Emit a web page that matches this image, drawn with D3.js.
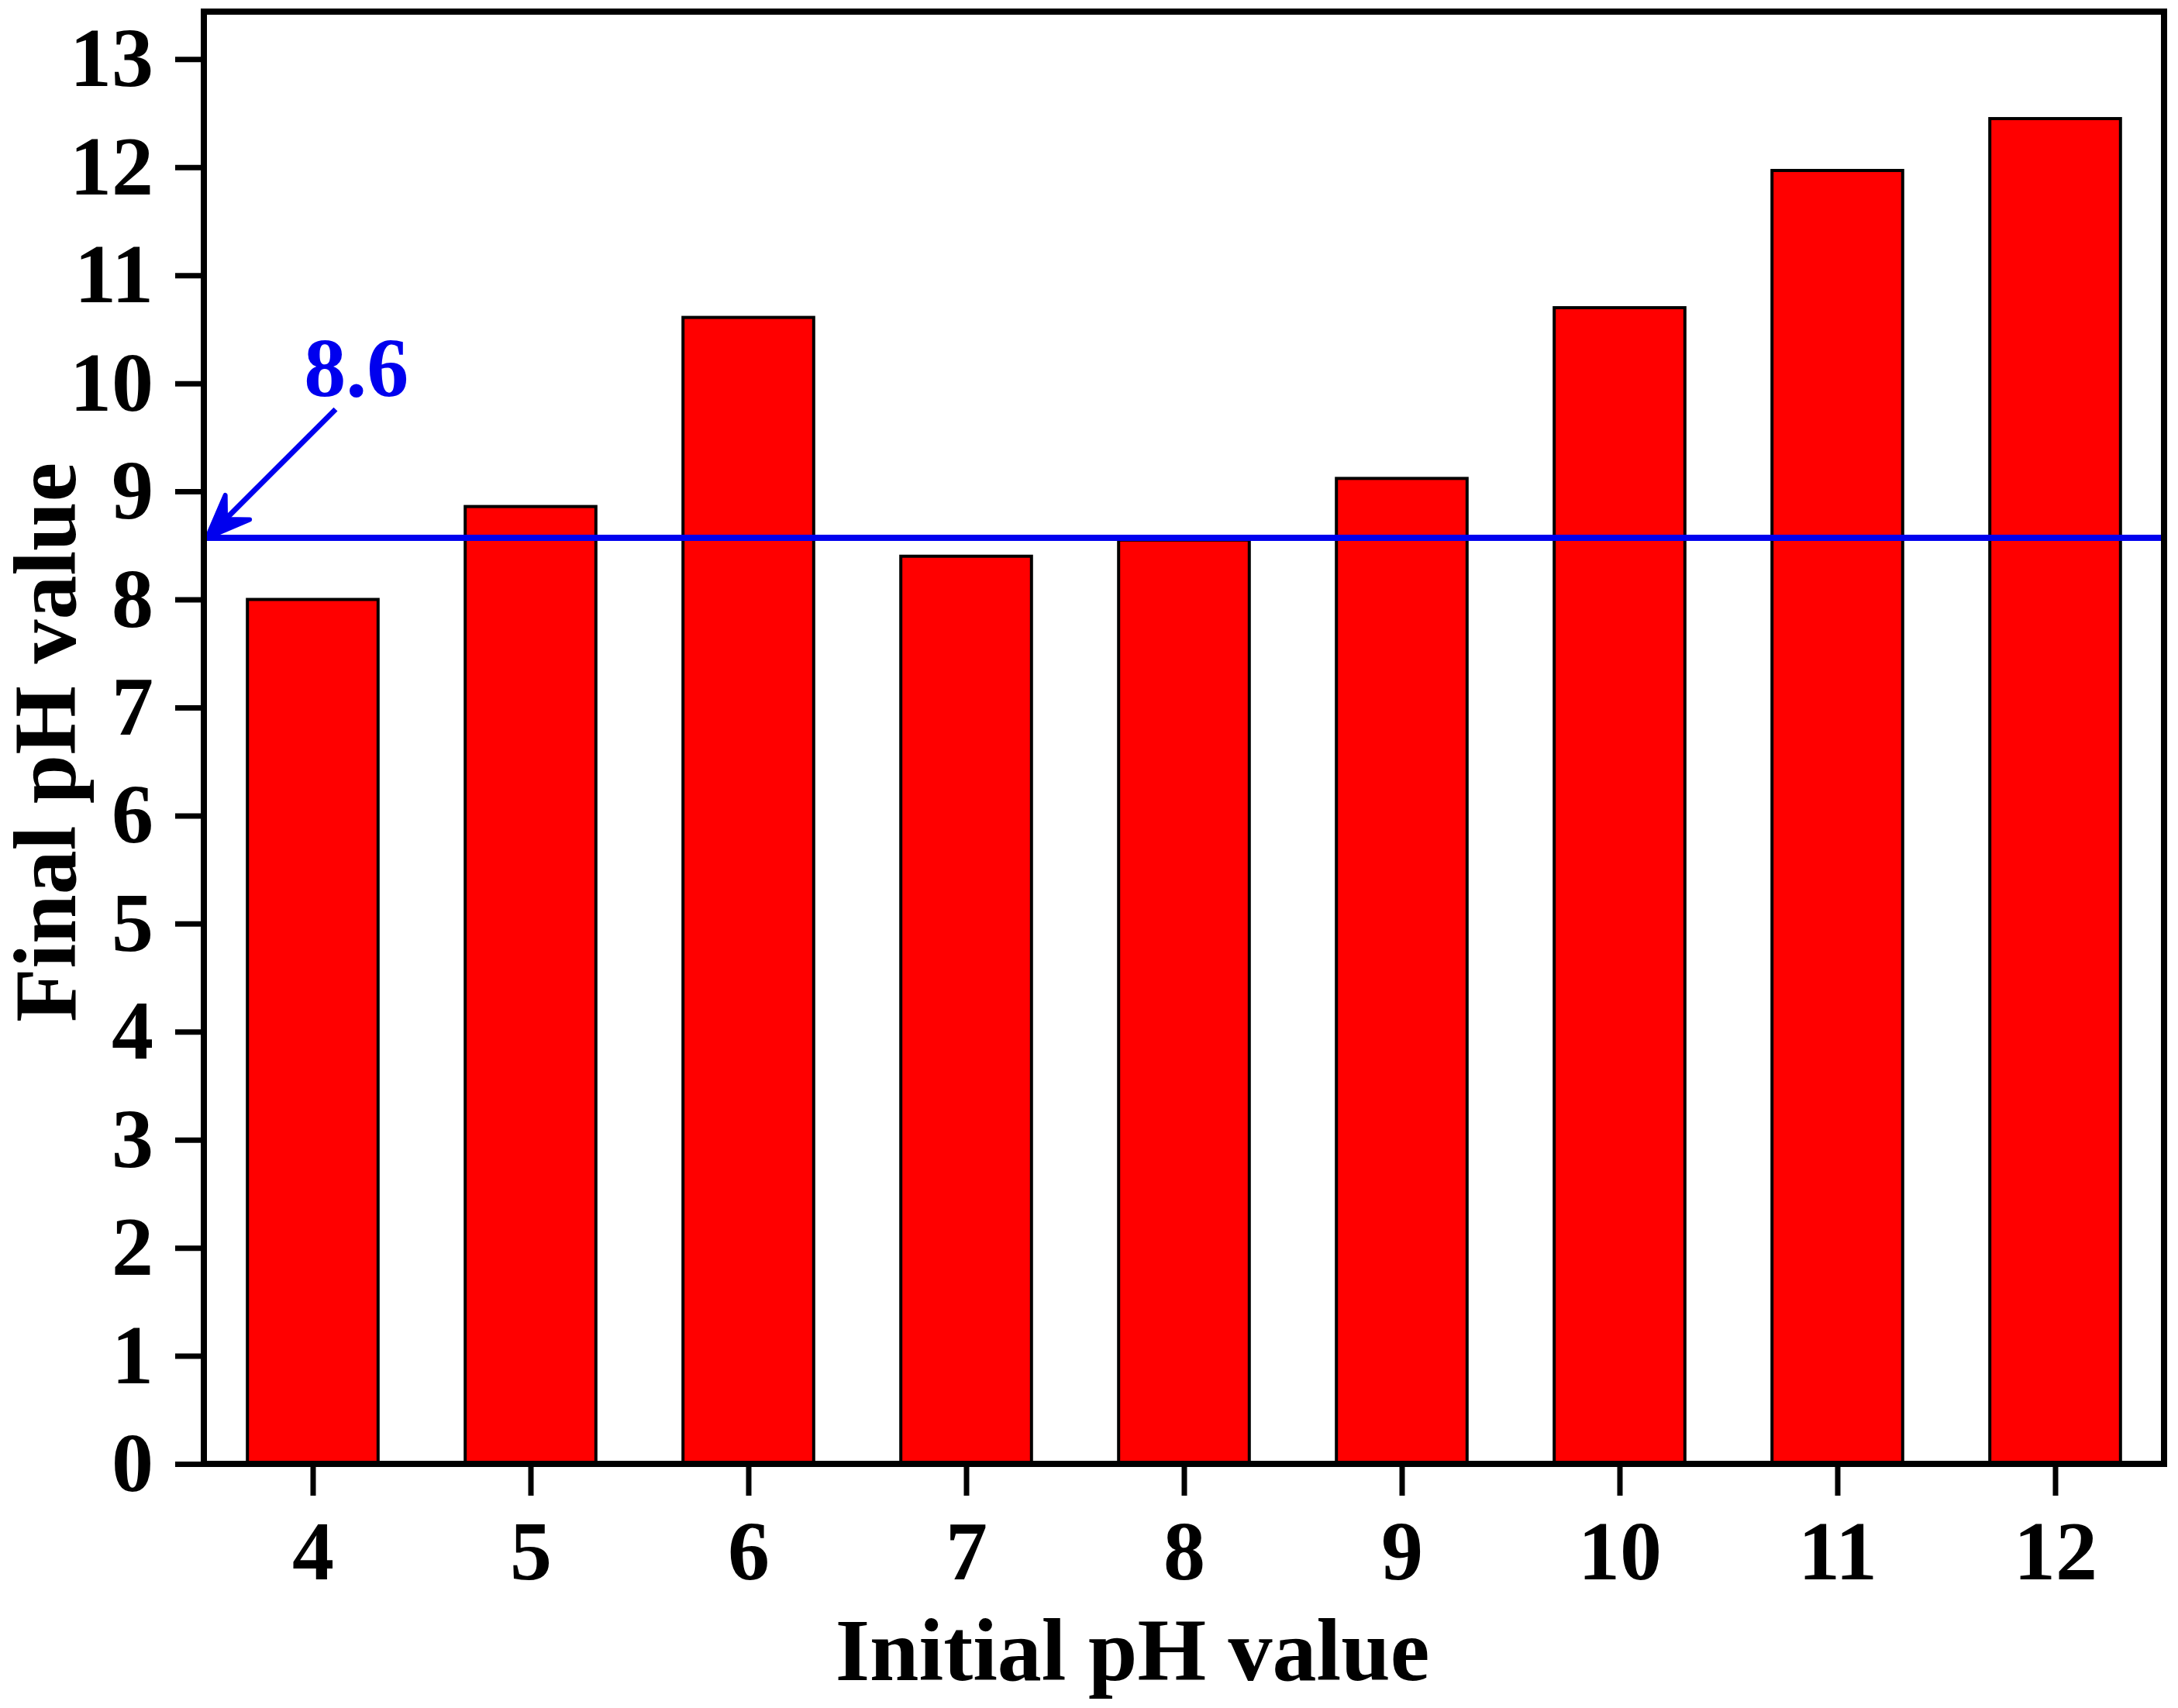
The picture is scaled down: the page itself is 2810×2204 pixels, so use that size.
<!DOCTYPE html>
<html>
<head>
<meta charset="utf-8">
<script src="https://cdn.jsdelivr.net/npm/d3@7"></script>
<style>
  body { margin: 0; background: #fff; }
  text { font-family: "Liberation Serif", "Times New Roman", serif; font-weight: bold; }
</style>
</head>
<body>
<div id="chart"></div>
<script>
// initial pH (categories) and final pH (bar heights)
var initialPH = [4, 5, 6, 7, 8, 9, 10, 11, 12];
var finalPH = [8.0, 8.86, 10.61, 8.40, 8.55, 9.12, 10.70, 11.97, 12.45];
var yTicks = [0, 1, 2, 3, 4, 5, 6, 7, 8, 9, 10, 11, 12, 13];
var pzc = 8.57;   // blue line, as drawn in the figure
var pzcLabel = "8.6";

var width = 2810, height = 2204;
var margin = {top: 15, right: 18, bottom: 315, left: 263};

var svg = d3.select("#chart").append("svg")
    .attr("width", width)
    .attr("height", height);

var x = d3.scaleLinear()
    .domain([3.5, 12.5])
    .range([margin.left, width - margin.right]);

var y = d3.scaleLinear()
    .domain([0, 13.44])
    .range([height - margin.bottom, margin.top]);

var barW = x(0.6) - x(0);

// bars
svg.append("g")
  .selectAll("rect")
  .data(initialPH)
  .enter().append("rect")
    .attr("x", function(d) { return x(d) - barW / 2; })
    .attr("y", function(d, i) { return y(finalPH[i]); })
    .attr("width", barW)
    .attr("height", function(d, i) { return y(0) - y(finalPH[i]); })
    .attr("fill", "#ff0000")
    .attr("stroke", "#000")
    .attr("stroke-width", 4);

// blue reference line
svg.append("line")
    .attr("x1", x(3.5)).attr("x2", x(12.5))
    .attr("y1", y(pzc)).attr("y2", y(pzc))
    .attr("stroke", "#0000ee")
    .attr("stroke-width", 8);

// arrow pointing at the line on the y axis
var tipX = x(3.5) + 4, tipY = y(pzc);
var tailX = x(4.105), tailY = y(9.76);
svg.append("line")
    .attr("x1", tailX).attr("y1", tailY)
    .attr("x2", tipX + 20).attr("y2", tipY - 20)
    .attr("stroke", "#0000ee")
    .attr("stroke-width", 7);

var ang = Math.atan2(tailY - tipY, tailX - tipX);
var hl = 60, spread = 0.38, notch = 34;
var head = [
  [tipX, tipY],
  [tipX + hl * Math.cos(ang - spread), tipY + hl * Math.sin(ang - spread)],
  [tipX + notch * Math.cos(ang), tipY + notch * Math.sin(ang)],
  [tipX + hl * Math.cos(ang + spread), tipY + hl * Math.sin(ang + spread)]
];
svg.append("path")
    .attr("d", "M" + head.join("L") + "Z")
    .attr("fill", "#0000ee")
    .attr("stroke", "#0000ee")
    .attr("stroke-width", 6)
    .attr("stroke-linejoin", "round");

svg.append("text")
    .attr("x", x(4.2))
    .attr("y", y(9.885))
    .attr("text-anchor", "middle")
    .attr("fill", "#0000ee")
    .style("font-size", "108px")
    .text(pzcLabel);

// axes
var gy = svg.append("g")
    .attr("transform", "translate(" + margin.left + ",0)")
    .call(d3.axisLeft(y).tickValues(yTicks).tickSize(37).tickPadding(28));

var gx = svg.append("g")
    .attr("transform", "translate(0," + (height - margin.bottom) + ")")
    .call(d3.axisBottom(x).tickValues(initialPH).tickSize(41).tickPadding(31));

[gy, gx].forEach(function(g) {
  g.select(".domain").remove();
  g.selectAll(".tick line").attr("stroke", "#000").attr("stroke-width", 7);
  g.selectAll(".tick text")
    .attr("fill", "#000")
    .style("font-family", "'Liberation Serif', 'Times New Roman', serif")
    .style("font-weight", "bold")
    .style("font-size", "108px");
});

// frame
svg.append("rect")
    .attr("x", margin.left)
    .attr("y", margin.top)
    .attr("width", width - margin.left - margin.right)
    .attr("height", height - margin.top - margin.bottom)
    .attr("fill", "none")
    .attr("stroke", "#000")
    .attr("stroke-width", 8);

// axis titles
svg.append("text")
    .attr("x", 1461)
    .attr("y", 2168)
    .attr("text-anchor", "middle")
    .style("font-size", "114px")
    .text("Initial pH value");

svg.append("text")
    .attr("transform", "translate(97,958) rotate(-90)")
    .attr("text-anchor", "middle")
    .style("font-size", "114px")
    .text("Final pH value");
</script>
</body>
</html>
